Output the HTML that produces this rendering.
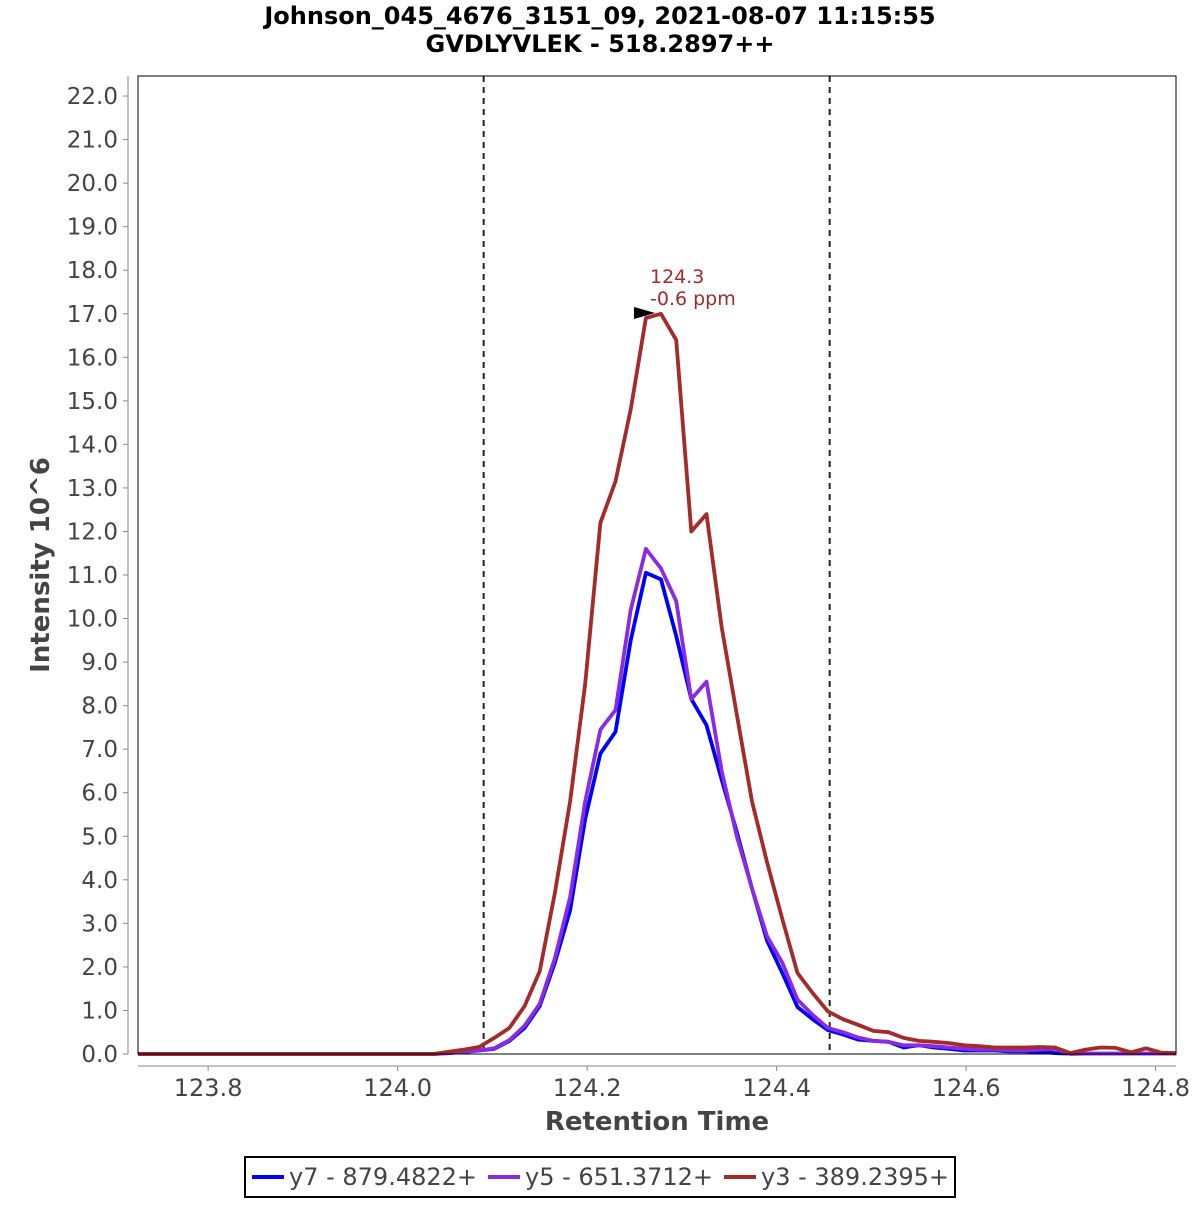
<!DOCTYPE html>
<html><head><meta charset="utf-8"><style>
body{margin:0;background:#fff;}
svg text{font-family:"Liberation Sans","DejaVu Sans",sans-serif;}
</style></head><body>
<svg id="chart" width="1200" height="1200" xmlns="http://www.w3.org/2000/svg">
<rect width="1200" height="1200" fill="#fff"/>
<text x="600" y="24" text-anchor="middle" font-size="24" font-weight="bold" style="font-family:'DejaVu Sans',sans-serif">Johnson_045_4676_3151_09, 2021-08-07 11:15:55</text>
<text x="600" y="52" text-anchor="middle" font-size="24" font-weight="bold" style="font-family:'DejaVu Sans',sans-serif">GVDLYVLEK - 518.2897++</text>
<g id="grid"></g>
<g id="series"></g>
<rect x="138" y="76" width="1038" height="978" fill="none" stroke="#000" stroke-width="1"/>
<g id="axes"></g>
<text x="657" y="1130" text-anchor="middle" font-size="26" font-weight="bold" fill="#444" style="font-family:'DejaVu Sans',sans-serif">Retention Time</text>
<text transform="translate(49,565) rotate(-90)" text-anchor="middle" font-size="26" font-weight="bold" fill="#444" style="font-family:'DejaVu Sans',sans-serif">Intensity 10^6</text>
<g>
<polygon points="634,307 634,319 655,313" fill="#000"/>
<text x="650" y="283" font-size="19" fill="#a52a2a" style="font-family:'DejaVu Sans',sans-serif">124.3</text>
<text x="650" y="305" font-size="19" fill="#a52a2a" style="font-family:'DejaVu Sans',sans-serif">-0.6 ppm</text>
</g>
<g>
<rect x="245" y="1157" width="710" height="40" fill="#fff" stroke="#000" stroke-width="2"/>
<line x1="252" y1="1177" x2="284" y2="1177" stroke="#0000ff" stroke-width="4"/>
<text x="289" y="1185" font-size="24" fill="#444" style="font-family:'DejaVu Sans',sans-serif">y7 - 879.4822+</text>
<line x1="488" y1="1177" x2="520" y2="1177" stroke="#8a2be2" stroke-width="4"/>
<text x="525" y="1185" font-size="24" fill="#444" style="font-family:'DejaVu Sans',sans-serif">y5 - 651.3712+</text>
<line x1="724" y1="1177" x2="756" y2="1177" stroke="#a52a2a" stroke-width="4"/>
<text x="761" y="1185" font-size="24" fill="#444" style="font-family:'DejaVu Sans',sans-serif">y3 - 389.2395+</text>
</g>
</svg>
<script>
const times=[124.054,124.070,124.086,124.102,124.118,124.134,124.150,124.166,124.182,124.198,124.214,124.230,124.246,124.262,124.278,124.294,124.310,124.326,124.342,124.358,124.374,124.390,124.406,124.422,124.438,124.454,124.470,124.486,124.502,124.518,124.534,124.550,124.566,124.582,124.598,124.614,124.630,124.646,124.662,124.678,124.694,124.710,124.726,124.742,124.758,124.774,124.790,124.806,124.822];
const y7Values=[0.02,0.05,0.08,0.12,0.3,0.6,1.1,2.1,3.3,5.4,6.9,7.4,9.5,11.05,10.9,9.6,8.15,7.55,6.3,5.1,3.8,2.6,1.86,1.08,0.8,0.55,0.45,0.33,0.3,0.28,0.15,0.2,0.15,0.12,0.08,0.08,0.08,0.06,0.06,0.05,0.02,0.01,0.01,0.01,0.01,0.01,0.01,0.01,0.01];
const y5Values=[0.02,0.05,0.08,0.13,0.32,0.65,1.15,2.2,3.6,5.8,7.45,7.9,10.2,11.6,11.15,10.4,8.15,8.55,6.5,5.0,3.8,2.7,2.1,1.25,0.9,0.6,0.5,0.38,0.3,0.28,0.2,0.2,0.18,0.15,0.12,0.1,0.1,0.08,0.08,0.1,0.12,0.0,0.01,0.01,0.01,0.01,0.01,0.01,0.01];
const y3Values=[0.05,0.1,0.16,0.37,0.6,1.1,1.9,3.7,5.8,8.5,12.2,13.15,14.8,16.9,17.0,16.4,12.0,12.4,9.8,7.8,5.8,4.4,3.1,1.86,1.4,0.98,0.8,0.67,0.53,0.5,0.37,0.3,0.28,0.25,0.2,0.18,0.15,0.15,0.15,0.16,0.15,0.02,0.1,0.15,0.14,0.04,0.13,0.03,0.02];
const xTicks=[123.8,124.0,124.2,124.4,124.6,124.8];
const yTicks=[0,1,2,3,4,5,6,7,8,9,10,11,12,13,14,15,16,17,18,19,20,21,22];
const boundaries=[124.0908,124.456];
const xMin=123.726,xMax=124.8215,yMax=22.46;
const L=138,R=1176,T=76,B=1054;
const X=v=>L+(v-xMin)/(xMax-xMin)*(R-L);
const Y=v=>B-v/yMax*(B-T);
const NS='http://www.w3.org/2000/svg';
function mk(tag,attrs,parent){const e=document.createElementNS(NS,tag);for(const k in attrs)e.setAttribute(k,attrs[k]);parent.appendChild(e);return e;}
const axes=document.getElementById('axes'),grid=document.getElementById('grid'),series=document.getElementById('series');
mk('line',{x1:L,y1:1066,x2:R,y2:1066,stroke:'#888','stroke-width':1},axes);
xTicks.forEach(v=>{
 const x=X(v);
 mk('line',{x1:x,y1:1066,x2:x,y2:1071,stroke:'#888'},axes);
 const t=mk('text',{x:x,y:1096,'text-anchor':'middle','font-size':24,fill:'#444'},axes);
 
 
 t.style.fontFamily="'DejaVu Sans',sans-serif";
 t.textContent=v.toFixed(1);
});
yTicks.forEach(v=>{
 const y=Y(v);
 mk('line',{x1:123,y1:y,x2:128,y2:y,stroke:'#888'},axes);
 const t=mk('text',{x:118,y:y+8,'text-anchor':'end','font-size':23,fill:'#444'},axes);
 
 
 t.style.fontFamily="'DejaVu Sans',sans-serif";
 t.textContent=v.toFixed(1);
});
mk('line',{x1:128,y1:T,x2:128,y2:B,stroke:'#888'},axes);
boundaries.forEach(b=>{
 const l=mk('line',{x1:X(b),y1:T,x2:X(b),y2:B,stroke:'#222','stroke-width':2,'stroke-dasharray':'6,5'},grid);
 
 
});
function draw(vals,color,name){
 let pts=[[X(xMin),Y(0)],[X(124.038),Y(0)]];
 times.forEach((t,i)=>pts.push([X(t),Y(vals[i])]));
 const p=mk('polyline',{points:pts.map(p=>p[0].toFixed(1)+','+p[1].toFixed(1)).join(' '),fill:'none',stroke:color,'stroke-width':3.8,'stroke-linejoin':'round'},series);
 
 
}
draw(y7Values,'#0000ff','series-y7');
draw(y5Values,'#8a2be2','series-y5');
draw(y3Values,'#a52a2a','series-y3');
</script>
</body></html>
